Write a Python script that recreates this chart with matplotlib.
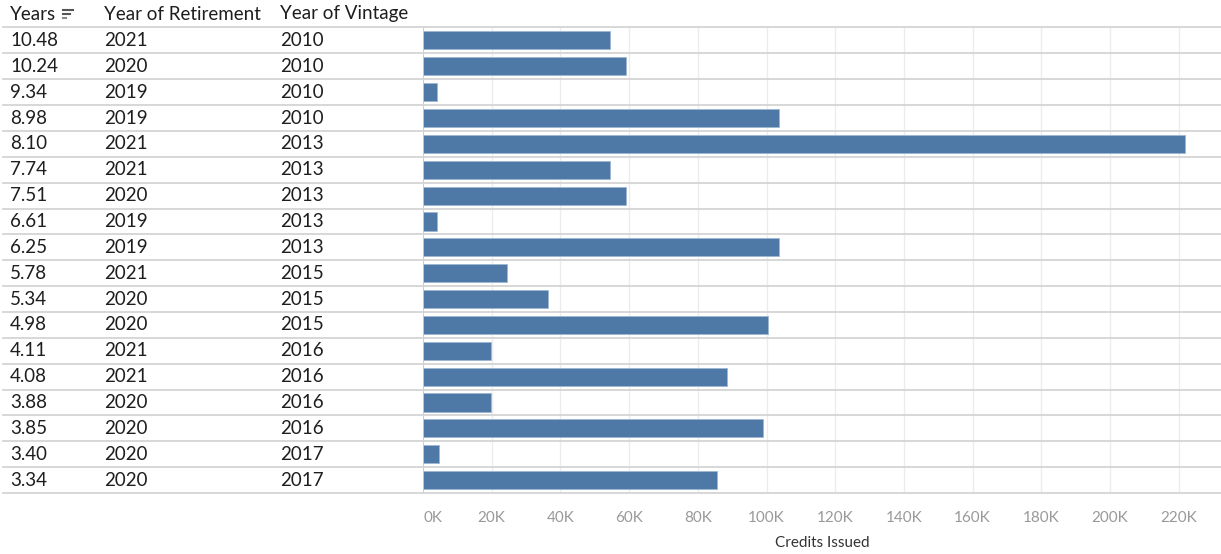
import matplotlib
matplotlib.use("Agg")
import matplotlib.pyplot as plt
from matplotlib.lines import Line2D
from matplotlib.transforms import blended_transform_factory
from matplotlib.ticker import FuncFormatter

plt.rcParams['font.family'] = ['Lato', 'DejaVu Sans']

# table rows, sorted by years between vintage and retirement
years = ["10.48", "10.24", "9.34", "8.98", "8.10", "7.74", "7.51", "6.61", "6.25",
         "5.78", "5.34", "4.98", "4.11", "4.08", "3.88", "3.85", "3.40", "3.34"]
retirement = ["2021", "2020", "2019", "2019", "2021", "2021", "2020", "2019", "2019",
              "2021", "2020", "2020", "2021", "2021", "2020", "2020", "2020", "2020"]
vintage = ["2010", "2010", "2010", "2010", "2013", "2013", "2013", "2013", "2013",
           "2015", "2015", "2015", "2016", "2016", "2016", "2016", "2017", "2017"]
credits = [54300, 59200, 4000, 103500, 221700, 54300, 59200, 4000, 103500,
           24500, 36300, 100500, 19700, 88500, 19700, 99000, 4600, 85500]
headers = ["Years", "Year of Retirement", "Year of Vintage"]
ticks = list(range(0, 220001, 20000))

W, H = 1221, 554
fig = plt.figure(figsize=(W / 100, H / 100), dpi=100)
fig.patch.set_facecolor("white")

# bar panel sits to the right of the text columns
left, right, top, bottom = 423, 1221, 27.5, 493
ax = fig.add_axes([left / W, 1 - bottom / H, (right - left) / W, (bottom - top) / H])

n = len(credits)
rows = list(range(n))
ax.barh(rows, credits, height=0.7, color="#4e79a7", edgecolor="#9db8d4",
        linewidth=0.6, zorder=3)
ax.set_ylim(n - 0.5, -0.5)
ax.set_xlim(0, 232300)

ax.set_xticks(ticks)
ax.xaxis.set_major_formatter(FuncFormatter(lambda v, p: f"{int(v / 1000)}K"))
ax.tick_params(axis="x", length=0, pad=13, labelsize=11, labelcolor="#999999")
ax.get_xticklabels()[0].set_horizontalalignment("left")
ax.set_yticks([])
ax.grid(axis="x", color="#ececec", linewidth=1, zorder=0)
for s in ax.spines.values():
    s.set_visible(False)
ax.axvline(0, color="#c8c8c8", linewidth=1.2, zorder=4)
fig.text(822 / W, 1 - 543 / H, "Credits Issued", ha="center", va="center",
         fontsize=11, color="#333333")

# row separators spanning the whole width
tr = blended_transform_factory(fig.transFigure, ax.transData)
for b in [r - 0.5 for r in rows] + [n - 0.5]:
    fig.add_artist(Line2D([3 / W, 1], [b, b], transform=tr, color="#d4d4d4",
                          linewidth=1.3, zorder=5))

# text columns
col_x = [10 / W, 104 / W, 280 / W]
for r in rows:
    for x, val in zip(col_x, (years[r], retirement[r], vintage[r])):
        fig.text(x, r, val, transform=tr, ha="left", va="center",
                 fontsize=13.5, color="#1e1e1e")

for x, h in zip(col_x, headers):
    fig.text(x, 1 - 14 / H, h, ha="left", va="center", fontsize=13.5, color="#1e1e1e")

# little sort indicator after the first header
for i, (ln, c) in enumerate([(10, "#555555"), (7, "#555555"), (3, "#888888")]):
    y = 1 - (10 + i * 4) / H
    fig.add_artist(Line2D([63 / W, (63 + ln) / W], [y, y], color=c, linewidth=1.5))

fig.savefig("out.png", dpi=100, facecolor="white")
